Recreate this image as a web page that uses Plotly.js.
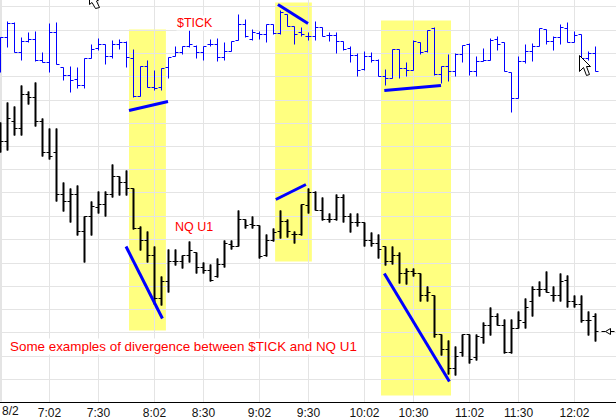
<!DOCTYPE html>
<html>
<head>
<meta charset="utf-8">
<script src="https://cdn.plot.ly/plotly-3.0.1.min.js"></script>
<style>html,body{margin:0;padding:0;background:#fff;overflow:hidden}#chart{width:616px;height:419px}</style>
</head>
<body>
<div id="chart"></div>
<script>
const tickHigh = [364,380,379,364,369,370,349,378,379,334,335,334,343,357,363,357,361,362,360,352,335,341,331,333,344,355,355,371,356,355,362,363,359,360,387,382,372,370,377,377,391,387,375,374,369,380,374,369,369,360,355,348,350,349,342,332,352,352,339,361,359,371,374,335,347,348,356,358,345,353,363,365,359,329,345,357,358,373,372,365,377,379,370,367,350,355];
const tickLow = [329,354,349,341,359,340,339,329,337,321,309,313,313,343,351,337,343,352,334,304,305,314,311,311,323,345,347,354,343,341,355,340,341,350,361,364,361,362,359,367,367,375,357,365,361,361,365,360,348,351,339,325,331,339,325,316,323,323,325,331,347,349,326,318,320,325,339,326,325,340,341,351,330,289,303,338,340,355,357,351,357,359,359,343,341,330];
const tickOpen = [364,364,378,349,360,362,341,339,369,334,326,322,316,343,353,357,345,357,359,343,305,335,314,314,334,345,349,355,355,349,357,357,344,350,361,377,362,368,367,377,368,387,375,369,365,365,374,366,366,360,353,346,332,345,341,325,323,352,333,331,359,350,373,327,335,330,347,357,330,340,341,362,359,329,303,340,350,355,372,360,364,373,359,367,343,348];
const tickClose = [364,378,349,360,362,341,339,369,337,326,321,316,343,352,357,345,357,359,344,305,335,314,313,333,344,349,355,357,349,355,357,344,350,360,377,365,369,367,377,368,389,375,367,367,365,374,365,366,360,352,346,331,345,341,325,323,352,333,331,360,349,371,327,335,330,347,356,330,340,341,361,357,330,303,340,350,355,373,360,364,374,359,366,343,348,330];

const nqHigh = [279,299,295,316,310,319,283,273,273,219,213,216,185,200,210,210,237,225,231,213,175,170,155,125,152,152,146,160,149,139,137,143,161,161,191,182,185,176,167,173,191,182,170,197,213,210,204,188,207,207,188,188,179,169,167,155,155,149,133,133,128,115,106,67,61,55,67,67,67,79,94,88,82,82,90,103,115,120,130,115,128,126,106,106,90,88];
const nqLow = [249,251,266,266,297,275,245,242,200,190,179,166,139,166,188,185,204,206,206,172,151,139,97,96,109,136,133,139,128,128,120,124,134,152,155,173,173,143,145,160,163,164,158,166,188,191,181,179,181,179,169,175,155,155,143,136,137,118,117,125,100,100,64,46,27,26,45,38,41,58,66,76,48,48,73,73,85,105,109,100,100,94,94,79,66,60];
const nqOpen = [272,260,280,273,307,304,280,249,249,207,200,207,170,185,194,197,207,225,219,213,173,161,146,103,120,140,140,146,149,134,131,125,137,157,155,182,177,176,146,161,170,180,167,167,196,209,191,182,182,204,185,179,179,161,158,155,140,146,128,130,128,106,106,67,52,33,49,67,44,64,76,85,76,49,73,79,100,112,112,106,106,121,100,97,81,85];
const nqClose = [260,283,273,307,304,280,249,245,207,200,207,170,185,195,197,207,225,219,213,173,161,146,103,120,140,140,146,151,134,131,121,137,158,155,182,176,176,145,161,169,180,170,167,197,209,191,182,182,204,185,179,179,161,158,152,140,146,128,130,128,106,109,67,52,33,45,67,42,65,76,85,76,49,73,81,94,112,112,109,106,120,100,97,81,81,70];

const barIndex = tickHigh.map((_, i) => i);
const timeTicks = [7, 14, 22, 29, 37, 44, 52, 59, 67, 74, 82];
const timeLabels = ['7:02','7:30','8:02','8:30','9:02','9:30','10:02','10:30','11:02','11:30','12:02'];
const gridLevels = [22,45,69,92,115,138,162,185,209,232,255,278,301,325,348,371,395];

const highlightStart = [18.36, 39.23, 54.36];
const highlightEnd = [23.63, 44.48, 64.36];
const highlightTop = [372, 399, 381];
const highlightBottom = [71, 140, 6];

const divergenceX = [[18.36,23.93],[39.63,43.93],[54.83,62.93],[17.93,23.13],[39.33,43.63],[54.83,64.13]];
const divergenceY = [[291,300],[397,378],[311,316],[155,83],[202,217],[128,20]];

const SCALE = 7;
const shapes = highlightStart.map((x0, k) => ({
  type:'rect', layer:'below', xref:'x', yref:'y', x0, x1:highlightEnd[k],
  y0:highlightBottom[k], y1:highlightTop[k], fillcolor:'#ffff80', line:{width:0}
}));
shapes.push({type:'rect', layer:'below', xref:'x', yref:'y', x0:-0.1, x1:1.5/SCALE, y0:0, y1:402, fillcolor:'#e4e4e4', line:{width:0}});
function pathOf(points){
  return 'M' + points.map(p => (p[0]/SCALE).toFixed(3) + ',' + (402-p[1])).join('L') + 'Z';
}
const cursorA = [[89,-1],[89,5],[91.5,3],[95,9],[99,8],[96,1.5],[99,0]];
const cursorB = [[579,56],[579,72],[583,68],[586,76],[589,75],[586,67],[590,67]];
const lastMark = [[605,332],[610,329],[610,335]];
[cursorA, cursorB].forEach(pts => shapes.push({type:'path', layer:'above', xref:'x', yref:'y',
  path:pathOf(pts), fillcolor:'#fff', line:{color:'#000', width:1}}));
shapes.push({type:'line', layer:'above', xref:'x', yref:'y', x0:601/SCALE, x1:605/SCALE, y0:70, y1:70, line:{color:'#000', width:1}});
shapes.push({type:'line', layer:'above', xref:'x', yref:'y', x0:610/SCALE, x1:614/SCALE, y0:70, y1:70, line:{color:'#000', width:1}});
shapes.push({type:'path', layer:'above', xref:'x', yref:'y', path:pathOf(lastMark), fillcolor:'#fff', line:{color:'#000', width:1}});

function ohlcTrace(name, o, h, l, c, color){
  return {type:'ohlc', name, x:barIndex, open:o, high:h, low:l, close:c, tickwidth:0.43, hoverinfo:'skip',
    increasing:{line:{color, width:1}}, decreasing:{line:{color, width:1}}};
}
const traces = [
  {type:'bar', name:'NQ U1 range', x:barIndex, base:nqLow, y:nqHigh.map((v,i)=>v-nqLow[i]), width:2/7,
   marker:{color:'#000', line:{width:0}}, hoverinfo:'skip'},
  ohlcTrace('NQ U1', nqOpen, nqHigh, nqLow, nqClose, '#000'),
  ohlcTrace('$TICK', tickOpen, tickHigh, tickLow, tickClose, '#0000ff')
];
divergenceX.forEach((x,k) => traces.push({type:'scatter', mode:'lines', x, y:divergenceY[k],
  line:{color:'#0000ff', width:3}, hoverinfo:'skip'}));

const redText = (text, xPx, yVal, size) => ({text, xref:'x', yref:'y', x:xPx/SCALE, y:yVal, showarrow:false,
  xanchor:'left', yanchor:'middle', bgcolor:'#fff', borderpad:0,
  font:{family:'Liberation Sans, Arial, sans-serif', size, color:'#f00'}});

const layout = {
  width:616, height:419, margin:{l:0,r:0,t:0,b:17,pad:0},
  paper_bgcolor:'#fff', plot_bgcolor:'#fff', showlegend:false, barmode:'overlay',
  xaxis:{range:[-0.5/SCALE, 88-0.5/SCALE], rangeslider:{visible:false}, tickmode:'array', tickvals:timeTicks, ticktext:timeLabels,
    showgrid:true, gridcolor:'#e4e4e4', gridwidth:1, zeroline:false, ticks:'', showline:true, linecolor:'#000', linewidth:1,
    tickfont:{family:'Liberation Sans, Arial, sans-serif', size:12, color:'#111'}, fixedrange:true},
  yaxis:{range:[-0.5,401.5], tickmode:'array', tickvals:gridLevels, showticklabels:false, showgrid:true,
    gridcolor:'#e4e4e4', gridwidth:1, zeroline:false, ticks:'', showline:false, fixedrange:true},
  shapes,
  annotations:[
    redText('$TICK', 175, 379, 12.5),
    redText('NQ U1', 173, 175, 12.5),
    redText('Some examples of divergence between $TICK and NQ U1', 8, 55, 13.4),
    {text:'8/2', xref:'x', yref:'y', x:10/SCALE, y:0, yanchor:'top', yshift:-1, showarrow:false, borderpad:0,
     font:{family:'Liberation Sans, Arial, sans-serif', size:12, color:'#111'}}
  ]
};
Plotly.newPlot('chart', traces, layout, {displayModeBar:false, staticPlot:true});
</script>
</body>
</html>
